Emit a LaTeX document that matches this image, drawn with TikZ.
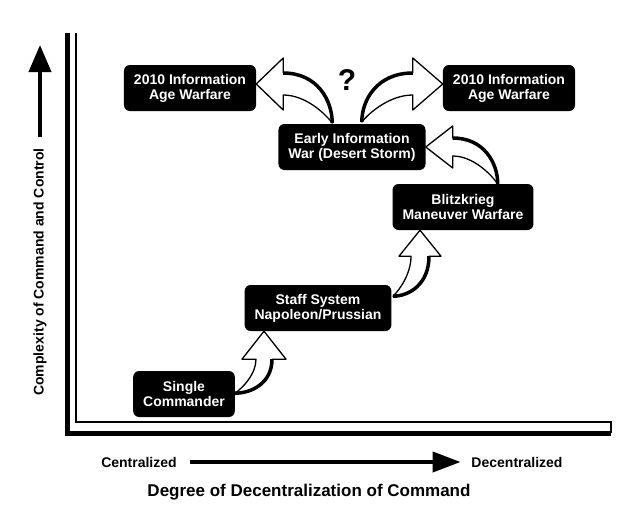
\documentclass[tikz,border=0pt]{standalone}
\usepackage{fontspec}
\setmainfont{Liberation Sans}
\usetikzlibrary{arrows.meta,calc}

\tikzset{
    box/.style={fill=black, text=white, rounded corners=6pt, align=center,
        inner xsep=10pt, minimum height=46pt, font=\fontsize{14}{15}\selectfont\bfseries},
    axisarrow/.style={line width=4pt, -{Triangle[length=27pt,width=22pt]}},
    bodyline/.style={draw=black, fill=white, line width=1.3pt, line join=round},
}

% #1 tip, #2 turn, #3 #4 tail, #5 head length, #6 head half width, #7 shaft half width
\newcommand{\bentarrow}[7]{%
    \begin{scope}[shift={(#1)}, #2]
        \filldraw[bodyline] (0,0) -- (#6,#5) -- (#7,#5)
            .. controls (#7,{#5+0.7*(#4-#5)}) and ({#3+0.45*(#7-(#3))},#4) .. (#3,#4)
            .. controls ({#3+0.35*(-#7-(#3))},{#4-0.15*(#4-#5)}) and (-#7,{#5+0.45*(#4-#5)}) .. (-#7,#5)
            -- (-#6,#5) -- cycle;
        \draw[line width=3.5pt] (#7,#5)
            .. controls (#7,{#5+0.7*(#4-#5)}) and ({#3+0.45*(#7-(#3))},#4) .. (#3,#4);
    \end{scope}}

\begin{document}
\begin{tikzpicture}[x=1pt, y=-1pt]
            \useasboundingbox[fill=white] (0,0) rectangle (643,514);

            % axes frame
            \draw[line width=5pt] (67,33) -- (67,433) -- (611,433);
            \draw[line width=2pt] (76,33) -- (76,422) -- (611,422) -- (611,433);

            \node[box] (AL) at (190,88)  {2010 Information\\Age Warfare};
            \node[box] (AR) at (509,88)  {2010 Information\\Age Warfare};
            \node[box] (EW) at (352,147) {Early Information\\War (Desert Storm)};
            \node[box] (BK) at (463,207) {Blitzkrieg\\Maneuver Warfare};
            \node[box] (SS) at (318,308) {Staff System\\Napoleon/Prussian};
            \node[box] (SC) at (184,394) {Single\\Commander};
            \node[font=\fontsize{30}{30}\selectfont\bfseries] (Q) at (347,80) {?};

            \bentarrow{$(SS.south)+(-54,0)$}{}{-29}{62}{28}{22}{8}
            \bentarrow{$(BK.south)+(-43,0)$}{}{-27}{66}{26}{21}{9}
            \bentarrow{EW.east}{rotate=90}{-37}{72}{27}{21}{9}
            \bentarrow{$(AL.east)+(0,-4)$}{rotate=90}{-39}{76}{27}{26}{11}
            \bentarrow{$(AR.west)+(0,-4)$}{xscale=-1,rotate=90}{-38}{81}{30}{26}{11}

            \fontsize{14}{14}\selectfont\bfseries
            \node[rotate=90] (YL) at (40,272) {Complexity of Command and Control};
            \coordinate (YT) at (40,45);
            \draw[axisarrow, shorten <=6pt] (YL.east) -- (YT);

            \node (CL) at (139,462) {Centralized};
            \node (DL) at (517,462) {Decentralized};
            \draw[axisarrow, -{Triangle[length=28pt,width=20pt]}, shorten <=8pt, shorten >=6pt] (CL.east) -- (DL.west);

            \node[font=\fontsize{17}{17}\selectfont\bfseries] (XL) at (309,492) {Degree of Decentralization of Command};
        \end{tikzpicture}
\end{document}
